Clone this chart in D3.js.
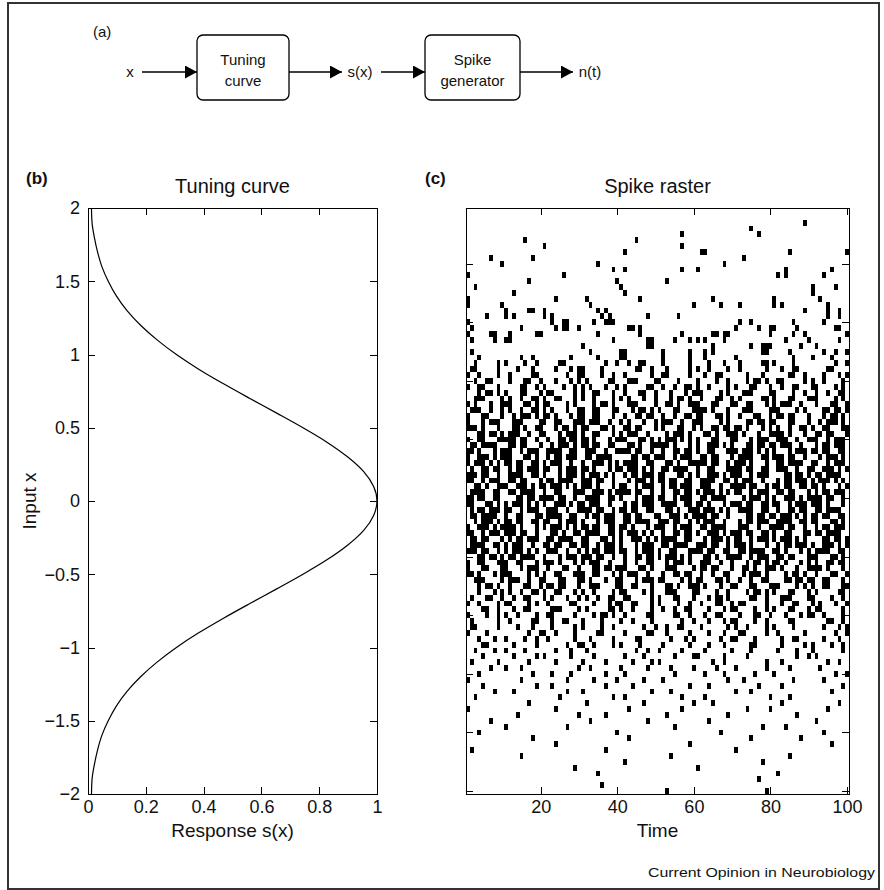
<!DOCTYPE html>
<html>
<head>
<meta charset="utf-8">
<script src="https://cdn.jsdelivr.net/npm/d3@7"></script>
<style>
  body { margin: 0; background: #fff; }
  svg text { font-family: "Liberation Sans", Arial, Helvetica, sans-serif; fill: #111; }
</style>
</head>
<body>
<svg id="drawing_region"></svg>
<script>
// ---- data ----

// panel (b): response s(x) at input x
const tuningX = [-2.0, -1.9, -1.8, -1.7, -1.6, -1.5, -1.4, -1.3, -1.2, -1.1, -1.0,
                 -0.9, -0.8, -0.7, -0.6, -0.5, -0.4, -0.3, -0.2, -0.1, 0.0,
                 0.1, 0.2, 0.3, 0.4, 0.5, 0.6, 0.7, 0.8, 0.9, 1.0,
                 1.1, 1.2, 1.3, 1.4, 1.5, 1.6, 1.7, 1.8, 1.9, 2.0];
const tuningS = [0.012, 0.014, 0.022, 0.033, 0.048, 0.070, 0.098, 0.135, 0.182, 0.239, 0.306,
                 0.383, 0.469, 0.560, 0.653, 0.744, 0.828, 0.899, 0.954, 0.988, 1.0,
                 0.988, 0.954, 0.899, 0.828, 0.744, 0.653, 0.560, 0.469, 0.383, 0.306,
                 0.239, 0.182, 0.135, 0.098, 0.070, 0.048, 0.033, 0.022, 0.014, 0.012];
const tuningTicksX = [0, 0.2, 0.4, 0.6, 0.8, 1];
const tuningTicksY = [-2, -1.5, -1, -0.5, 0, 0.5, 1, 1.5, 2];

// panel (c): time ticks and raster row ticks
const rasterTicksX = [20, 40, 60, 80, 100];
const rasterTicksY = [10, 20, 30, 40, 50, 60, 70, 80, 90, 100];

// panel (a)
const diagramNodes = ['x', 's(x)', 'n(t)'];
const diagramBoxes = [['Tuning', 'curve'], ['Spike', 'generator']];

// spike raster: 100 rows (top = x 2, bottom = x -2), 100 time bins, '#' = spike
const spikeRows = [
".......... .......... .......... .......... .......... .......... .......... .......... .......... ..........",
".......... .......... .......... .......... .......... .......... .......... .......... .......... ..........",
".......... .......... .......... .......... .......... .......... .......... .......... ........#. ..........",
".......... .......... .......... .......... .......... .......... .......... ....#..... .......... ..........",
".......... .......... .......... .......... .......... ......#... .......... ......#... .......... ..........",
".......... .....#.... .......... .......... ....#..... .......... .......... .......... .......... ..........",
".......... .......... #......... .......... .......... ......#... .......... .......... .......... ..........",
".......... .......... .......... .......... .#........ .......... .##....... .......... ....#..... .........#",
"......#... .......#.. .......... .......... .......... .......... .......... ..#....... .......... ..........",
".........# .......... .......... ....#..... .......... .......... .......#.. .......... .......... ..........",
".......... .......... .......... ........#. .#........ ......#... #......... .......... ...#...... .....#....",
"#......... .......... .....#.... .......... .......... .......... .......... .......... .#.#...... ...#......",
".......... ......#... .......... .........# .......... ..#....... .......... .......... .......... ..........",
"..#....... .......... .......... .......... #......... .......... .......... .......... .......... #.....#...",
".......... ..#....... .......... .......... .#........ .......... .......... .......... .......... #.........",
"#......... .......... ...#...... .#........ .....#.... .......... ....#..... .......... #......... ..#.......",
"#........# .......... .......... ..#....... .......... .........# ......#... .#........ #.#....... ....#.....",
".......... #.....##.. #......... ....#.#... .......... .......... .......... .......... ........#. ....#..#..",
".....#.... #.#....... #.#....... .....#.#.. .......#.. .....#.... .......... .......... .......... ....#..#..",
"#......... .......... ..#..##... ...#..###. .......... .......... .......... .#..#..... .....#.... ...#......",
".#........ ....#..... ...#.##..# .......... ..##.#.... .......... .......... #.....#..# #.....#... ......##..",
"#.....##.. .#......## .......... ....#..... .....#.... ......#... ....##.##. .........# .....#..#. .........#",
".#.....#.. ##........ .......... ........#. .......##. ....#...#. #.#....#.. .......... ...#.....# .......#..",
".......... .......... .......... #......... .......##. .......... ....#..... ....#..### .......#.. .#........",
".#........ .......... .......... ..#....... ##........ .#......#. ..#.#..... .......##. ....#..... ...#..#..#",
"...#...... ....#..#.. .......#.. ....#..... ##........ .#......#. ..#....... #......... .....#.... #....#....",
"..#.....#. #....#..#. ....##.... ......#..# ..#..##... .#......#. ...#...#.. .#.....##. #....#.... ......#..#",
".##.....#. ...#...#.. ...#...#.# #....#.... ....##..#. ..#.....#. #..#....#. .#......#. ..#..##... ....##....",
"#..#....#. .#.....##. ......#..# #....#..#. .#......#. .##.....#. ..#..##... ...#...#.. ....##..#. ...#...#.#",
"..#..##... .#...##..# ...#...#.# .#.....##. ..###....# #....#.... #....#..#. ...#.##.#. .##.....#. #..#....#.",
"#..##...#. ....##..#. #....#..#. #.#...#..# .#.....##. .#..#..##. #..#....#. #...##...# ..#..##... ##....#.#.",
"...#.##.#. #...##...# .##.....#. #..##...#. .#...##..# ...#...#.# ##....#.#. ..###....# #....#..#. .#..#..##.",
"..###....# .#..#..##. #..##...#. #..#....#. #.#...#..# ...#.##.#. .#...##..# .#.....##. #...##...# ##....#.#.",
"#.#...#..# ##...##.#. ##....#.#. ...#.##.#. ..###....# ..##.#..## #...##...# #..##...#. #.###..#.. .#...##..#",
".###..#..# .#..#..##. #.#...#..# #..##...## ...#.##.#. #...##...# ###.#...#. ..###....# ##....#.#. ...##.##.#",
"#...##...# ..#.###.#. ##.#...#.# #..##...#. .#..##.##. .#..#..##. ##...##.#. .#...##..# .##.##...# ...#.##.#.",
"#...#.###. ..###....# #..##...## #.###..#.. #.#...#..# .###..#..# ##....#.#. ...##.##.# #...##...# ..#.###.#.",
"###.#...#. ..##.#..## ...#.##.#. ##...##.#. .##.##...# .#...##..# .#..##.##. ##.#...#.# .#..#..##. #..##...##",
"...##.##.# .###..#..# #...#.###. #..##...#. #.###..#.. ..#.###.#. ..##.#..## #.#...#..# ###.#...#. .##.##...#",
"#..##...## ###.##..#. .#..##.##. ##.#...#.# ##...##.#. #.###.#.#. #...##...# #...#.###. .###..#..# ##..#.###.",
".##.####.. .##.##...# ..#.###.#. ##.##..##. ..##.#..## ###.#...#. #..###.#.# ...##.##.# #.###..#.. .#.##.###.",
"##.#...#.# ##..#.###. .####..##. .###..#..# ###.##..#. .#..##.##. #..##...## #.###.#.#. #...#.###. ##.##..##.",
"#..###.#.# ##...##.#. .#.##.###. .##.####.. ...##.##.# ##..#.###. .##.##...# .####..##. ###.##..#. ..#.###.#.",
"#.###.#.#. ##.##..##. #.###..#.. #..###.#.# .####..##. ..##.#..## ###.##..#. ###.#...#. .##.####.. ##..#.###.",
".#..##.##. .#.##.###. ##..#.###. ##.#...#.# #.###.#.#. .##.####.. #..##...## ##.##..##. .###..#..# #..###.#.#",
"###.##..#. .####..##. #...#.###. #.###.#.#. .#.##.###. ##...##.#. #..###.#.# ##..#.###. ...##.##.# .##.####..",
"##..#.###. .##.##...# .##.####.. ###.##..#. ..#.###.#. ##.##..##. .####..##. #.###..#.. .#.##.###. #.###.#.#.",
"..##.#..## #..###.#.# #.###.#.#. ###.#...#. ##..#.###. .#.##.###. .###..#..# ###.##..#. ##.##..##. ##.#...#.#",
".####..##. .##.####.. #..##...## #..###.#.# ###.##..#. .#..##.##. #.###.#.#. ##..#.###. .##.##...# .#.##.###.",
"##.##..##. ...##.##.# ###.##..#. .####..##. #...#.###. ##..#.###. .##.####.. ..#.###.#. #..###.#.# ###.##..#.",
"##...##.#. #.###.#.#. #..###.#.# #.###..#.. .#.##.###. .####..##. ##.#...#.# ##.##..##. ##..#.###. ###.#...#.",
".#.##.###. ##..#.###. .###..#..# ###.##..#. ##.##..##. ..##.#..## #.###.#.#. .####..##. .#..##.##. .##.####..",
".##.####.. #..##...## .####..##. .#.##.###. .##.##...# #..###.#.# ###.##..#. ...##.##.# #.###.#.#. ##.##..##.",
"..#.###.#. ##.##..##. ##..#.###. #...#.###. .##.####.. ###.##..#. #.###..#.. .#.##.###. .####..##. ##...##.#.",
"#..###.#.# ###.#...#. #.###.#.#. ##.##..##. ##.#...#.# ##..#.###. .##.####.. .###..#..# ###.##..#. .#.##.###.",
"##..#.###. ###.##..#. ..##.#..## .####..##. #.###.#.#. .#..##.##. #..###.#.# ##.##..##. #..##...## .##.####..",
".##.##...# .#.##.###. .##.####.. ##...##.#. #..###.#.# .####..##. ..#.###.#. ##..#.###. #.###.#.#. ...##.##.#",
".####..##. #.###..#.. ##.##..##. ##..#.###. #...#.###. .##.####.. ###.##..#. ###.#...#. .#.##.###. #..###.#.#",
"###.##..#. #.###.#.#. .###..#..# .#.##.###. ##..#.###. #..##...## ##.##..##. .##.####.. ##.#...#.# .####..##.",
"...##.##.# .##.####.. #...#.###. ###.##..#. .#..##.##. #.###.#.#. ..##.#..## ##..#.###. .##.##...# ##...##.#.",
"#..##...## #..##...#. ###.#...#. #.###..#.. .#..#..##. ..#.###.#. .###..#..# ...#.##.#. ##.#...#.# .#..##.##.",
"#...##...# #...#.###. .#...##..# ...##.##.# ##...##.#. ..###....# .##.##...# ..##.#..## #.#...#..# ###.#...#.",
"##.#...#.# ##....#.#. #..##...## #..##...#. #.###..#.. .#..##.##. .#..#..##. ..#.###.#. ...#.##.#. .#...##..#",
"..###....# .###..#..# #...##...# #.#...#..# #...#.###. ##....#.#. ##...##.#. .#..#..##. ...##.##.# #..##...#.",
"...#.##.#. .#...##..# .##.##...# ..###....# #..##...#. ..##.#..## #.#...#..# #...##...# ##....#.#. #..##...##",
"...#...#.# .#..#..##. #..##...#. #..#....#. ##....#.#. ..###....# #....#..#. ...#.##.#. #...##...# .#.....##.",
".#...##..# ..#..##... #.#...#..# .#..#..##. .##.....#. #...##...# ...#.##.#. ....##..#. ..###....# #....#..#.",
"#..#....#. ##....#.#. .#.....##. ...#...#.# #..##...#. #....#..#. .#...##..# .##.....#. ..#..##... #.#...#..#",
"....##..#. ..#..##... ..###....# .#.....##. #..#....#. .#..#..##. ...#...#.# #....#..#. #...##...# .##.....#.",
"#....#..#. #..#....#. .##.....#. ...#.##.#. .#.....##. ....##..#. ..#..##... .#...##..# ...#...#.# #..#....#.",
".#......#. .#.....##. ..#..##... #....#.... #..#....#. ......#..# ...#...#.# #....#..#. ....##.... ....##..#.",
".##.....#. ...#...#.. ..#.....#. #....#..#. ......#..# ..#..##... .#......#. #..#....#. #....#.... ...#...#.#",
"#....#.... ......#..# #..#....#. ....##.... .#.....##. ..#.....#. ...#...#.. .##.....#. .#......#. ......#..#",
"...#...#.. #....#..#. .#......#. ..#.....#. ....##.... ...#...#.# ......#..# #....#.... ..#..##... ...#...#..",
"....##.... ..#.....#. ......#..# #..#....#. #....#.... .#......#. ...#...#.. ....##.... ..#.....#. #....#..#.",
"..#....#.. #....#.... ...#...#.. .#........ ....#..#.. #.....#... ..#......# ....#..... .#....#... #.......#.",
"....#..... ..#.....#. #......#.. ...#...... .#....#... ....#....# #......#.. ...#...... ......#..# .#........",
".#......#. ......#... ...#...... #.....#... ...#....#. #......... ....#..#.. ........#. ..#....... ....#..#..",
"......#... #...#..... .........# ..#....... #......#.. ...#.....# .....#.... #.......#. ....#..... ..#.......",
"...#...... .......#.. ..#....#.. ......#... .#........ ....#..... ..#....#.. .....#.... #......... ......#..#",
"#......... ....#..... ......#... ...#.....# ......#... .#........ ........#. ..#....... .....#.... ...#......",
"....#..... ........#. ..#....... ......#... ...#...... ........#. ...#...... ......#... ..#....... ........#.",
".......#.. ..#....... ......#... #......... ........#. ...#...... .......... #...#..... .......... .....#....",
"..#....... .......... ....#..... ........#. .#........ ......#... ..#....... .........# ....#..... ..........",
".......... ......#... .......... .#........ ......#... .........# ....#..... .......... ..#....... .......#..",
"#......... .......... ...#...... .......... ..#....... ......#... .......... ...#.....# .......... ....#.....",
".......... ...#...... .........# ......#... .......... ..#....... ........#. .......... ......#... ..........",
"......#... .......... .......... ..#....... .......#.. .......... ...#...... .......... .......... .#........",
".......... #......... ......#... .......... .......... ....#..... .......... .......#.. ...#...... ..........",
"...#...... .......... .......... .........# .......... .......... ......#... .......... .......... ...#......",
".......... .......#.. .......... .......... ..#....... .......... .......... ....#..... .......#.. ..........",
".......... .......... ...#...... .......... .......... ........#. .......... .......... .......... .....#....",
".#........ .......... .......... ......#... .......... .......... .......... #......... .......... ..........",
".......... ....#..... .......... .......... .......... ...#...... .......... .......... ....#..... ..........",
".......... .......... .......... .......... .#........ .......... .......... .......#.. .......... ..........",
".......... .......... ........#. .......... .......... .......... #......... .......... .......... ..........",
".......... .......... .......... ....#..... .......... .......... .......... .......... .#........ ..........",
".......... .......... .......... .......... .......... .......... .......... ......#... .......... ..........",
".......... .......... .......... .....#.... .......... .......... .......... .......... .......... ..........",
".......... .......... .......... .......... .......... ..#....... .......... ........#. .......... .........."
];

// ---- layout ----
const W = 884, H = 890;
const fontFamily = '"Liberation Sans", Arial, Helvetica, sans-serif';
const fmt = d3.format('~g');

const svg = d3.select('#drawing_region')
    .attr('width', W)
    .attr('height', H);

svg.append('rect')
    .attr('width', W).attr('height', H)
    .attr('fill', '#fff');

// outer frame
svg.append('rect')
    .attr('x', 8).attr('y', 3)
    .attr('width', 871).attr('height', 886)
    .attr('fill', 'none')
    .attr('stroke', '#333')
    .attr('stroke-width', 2);

// ---- (a) block diagram ----
const defs = svg.append('defs');
defs.append('marker')
    .attr('id', 'head')
    .attr('markerUnits', 'userSpaceOnUse')
    .attr('markerWidth', 12).attr('markerHeight', 13)
    .attr('refX', 12).attr('refY', 6.5)
    .attr('orient', 'auto')
  .append('path')
    .attr('d', 'M0,0 L12,6.5 L0,13 Z')
    .attr('fill', '#000');

const dia = svg.append('g');
const arrowY = 72;
const boxX = [[197, 289], [425, 520]];
const nodeX = [130, 360, 590];
const arrows = [[142, 197], [289, 342], [381, 425], [520, 573]];

dia.append('text')
    .attr('x', 93).attr('y', 37)
    .attr('font-size', 15)
    .text('(a)');

dia.selectAll('line.arrow')
    .data(arrows)
    .join('line')
    .attr('class', 'arrow')
    .attr('x1', d => d[0]).attr('x2', d => d[1])
    .attr('y1', arrowY).attr('y2', arrowY)
    .attr('stroke', '#000')
    .attr('stroke-width', 1.5)
    .attr('marker-end', 'url(#head)');

dia.selectAll('rect.box')
    .data(diagramBoxes)
    .join('rect')
    .attr('class', 'box')
    .attr('x', (d, i) => boxX[i][0])
    .attr('y', 35)
    .attr('width', (d, i) => boxX[i][1] - boxX[i][0])
    .attr('height', 65)
    .attr('rx', 6)
    .attr('fill', 'none')
    .attr('stroke', '#000')
    .attr('stroke-width', 1.3);

diagramBoxes.forEach((lines, i) => {
    lines.forEach((t, j) => {
        dia.append('text')
            .attr('x', (boxX[i][0] + boxX[i][1]) / 2)
            .attr('y', 65 + j * 21)
            .attr('text-anchor', 'middle')
            .attr('font-size', 15)
            .text(t);
    });
});

dia.selectAll('text.node')
    .data(diagramNodes)
    .join('text')
    .attr('class', 'node')
    .attr('x', (d, i) => nodeX[i])
    .attr('y', 77)
    .attr('text-anchor', 'middle')
    .attr('font-size', 15)
    .text(d => d);

// ---- shared axis helper: MATLAB style box with inward ticks ----
function boxAxes(g, xscale, yscale, xticks, yticks, showYLabels) {
    const [x0, x1] = xscale.range();
    const [y1, y0] = yscale.range().slice().sort((a, b) => b - a);

    const bottom = g.append('g')
        .attr('transform', `translate(0, ${y1})`)
        .call(d3.axisBottom(xscale).tickValues(xticks)
            .tickSizeInner(-7).tickSizeOuter(0).tickPadding(6).tickFormat(fmt));
    const top = g.append('g')
        .attr('transform', `translate(0, ${y0})`)
        .call(d3.axisTop(xscale).tickValues(xticks)
            .tickSizeInner(-7).tickSizeOuter(0).tickFormat(''));
    const left = g.append('g')
        .attr('transform', `translate(${x0}, 0)`)
        .call(d3.axisLeft(yscale).tickValues(yticks)
            .tickSizeInner(-7).tickSizeOuter(0).tickPadding(8)
            .tickFormat(showYLabels ? fmt : ''));
    const right = g.append('g')
        .attr('transform', `translate(${x1}, 0)`)
        .call(d3.axisRight(yscale).tickValues(yticks)
            .tickSizeInner(-7).tickSizeOuter(0).tickFormat(''));

    [bottom, top, left, right].forEach(a => {
        a.select('.domain').remove();
        a.attr('font-size', 18).attr('font-family', fontFamily);
        a.selectAll('line').attr('stroke', '#000').attr('shape-rendering', 'crispEdges');
        a.selectAll('text').attr('fill', '#111');
    });

    g.append('rect')
        .attr('x', x0).attr('y', y0)
        .attr('width', x1 - x0).attr('height', y1 - y0)
        .attr('fill', 'none')
        .attr('stroke', '#000')
        .attr('stroke-width', 1)
        .attr('shape-rendering', 'crispEdges');
}

// ---- (b) tuning curve ----
const tc = { left: 88, right: 377, top: 208, bottom: 794 };
const xs = d3.scaleLinear().domain([0, 1]).range([tc.left, tc.right]);
const ys = d3.scaleLinear().domain([-2, 2]).range([tc.bottom, tc.top]);
const tuning = tuningX.map((x, i) => ({ x: x, s: tuningS[i] }));

const gb = svg.append('g');
gb.append('path')
    .datum(tuning)
    .attr('d', d3.line().x(d => xs(d.s)).y(d => ys(d.x)).curve(d3.curveMonotoneY))
    .attr('fill', 'none')
    .attr('stroke', '#000')
    .attr('stroke-width', 1.2);
boxAxes(gb, xs, ys, tuningTicksX, tuningTicksY, true);

gb.append('text')
    .attr('x', 26).attr('y', 184)
    .attr('font-size', 17).attr('font-weight', 'bold')
    .text('(b)');
gb.append('text')
    .attr('x', (tc.left + tc.right) / 2).attr('y', 193)
    .attr('text-anchor', 'middle')
    .attr('font-size', 20)
    .text('Tuning curve');
gb.append('text')
    .attr('x', (tc.left + tc.right) / 2).attr('y', 837)
    .attr('text-anchor', 'middle')
    .attr('font-size', 19)
    .text('Response s(x)');
gb.append('text')
    .attr('transform', `translate(36, ${(tc.top + tc.bottom) / 2}) rotate(-90)`)
    .attr('text-anchor', 'middle')
    .attr('font-size', 19)
    .text('Input x');

// ---- (c) spike raster ----
const rc = { left: 466, right: 849, top: 208, bottom: 794 };
const ts = d3.scaleLinear().domain([0.5, 100.5]).range([rc.left, rc.right]);
const rs = d3.scaleLinear().domain([0.5, 100.5]).range([rc.top, rc.bottom]);

const spikes = [];
spikeRows.forEach((row, i) => {
    row.replace(/ /g, '').split('').forEach((ch, j) => {
        if (ch === '#' && j < 100) spikes.push({ t: j + 1, r: i + 1 });
    });
});

const gc = svg.append('g');
gc.append('g')
    .selectAll('rect')
    .data(spikes)
    .join('rect')
    .attr('x', d => ts(d.t - 0.5))
    .attr('y', d => rs(d.r - 0.5))
    .attr('width', d => ts(d.t + 0.5) - ts(d.t - 0.5))
    .attr('height', d => rs(d.r + 0.5) - rs(d.r - 0.5))
    .attr('fill', '#000')
    .attr('shape-rendering', 'crispEdges');
boxAxes(gc, ts, rs, rasterTicksX, rasterTicksY, false);

gc.append('text')
    .attr('x', 425).attr('y', 184)
    .attr('font-size', 17).attr('font-weight', 'bold')
    .text('(c)');
gc.append('text')
    .attr('x', (rc.left + rc.right) / 2).attr('y', 193)
    .attr('text-anchor', 'middle')
    .attr('font-size', 20)
    .text('Spike raster');
gc.append('text')
    .attr('x', (rc.left + rc.right) / 2).attr('y', 837)
    .attr('text-anchor', 'middle')
    .attr('font-size', 19)
    .text('Time');

svg.append('text')
    .attr('x', 648).attr('y', 877)
    .attr('font-size', 13)
    .attr('textLength', 227)
    .attr('lengthAdjust', 'spacingAndGlyphs')
    .text('Current Opinion in Neurobiology');
</script>
</body>
</html>
